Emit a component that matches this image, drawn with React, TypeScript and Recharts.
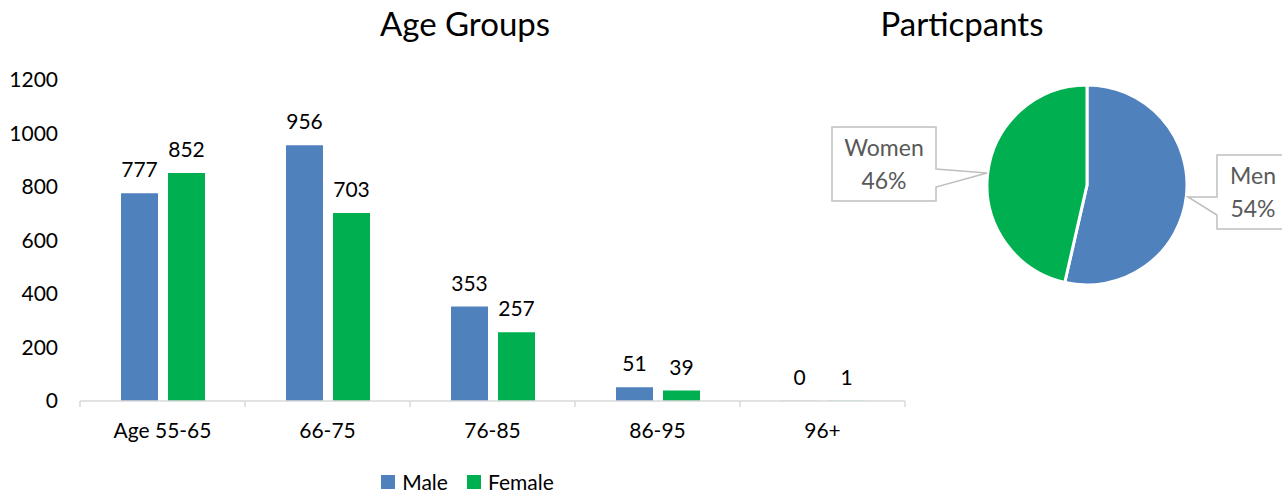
import { BarChart, Bar, XAxis, YAxis, Legend, LabelList, PieChart, Pie, Cell } from "recharts";

const categories = ["Age 55-65", "66-75", "76-85", "86-95", "96+"];
const maleValues = [777, 956, 353, 51, 0];
const femaleValues = [852, 703, 257, 39, 1];
const yTicks = [0, 200, 400, 600, 800, 1000, 1200];
const seriesNames = ["Male", "Female"];

const pieLabels = ["Men", "Women"];
const pieValues = [2137, 1852];

const BLUE = "#4F81BD";
const GREEN = "#00B050";
const FONT = "Lato, 'Open Sans', sans-serif";

const barData = categories.map((name, i) => ({
  name,
  Male: maleValues[i],
  Female: femaleValues[i],
}));

const pieTotal = pieValues.reduce((a, b) => a + b, 0);
const pieData = pieLabels.map((name, i) => ({ name, value: pieValues[i] }));

const BAND = 165;

// zero-value bars still need a rect so their label shows
const tinyForZero = (v: any) => (v === 0 ? 0.2 : 0);

const CategoryTick = (props: any) => {
  const { x, y, payload, index } = props;
  const axisY = y - 22;
  return (
    <g>
      <line x1={x - BAND / 2} x2={x - BAND / 2} y1={axisY} y2={axisY + 6} stroke="#d9d9d9" strokeWidth={1.5} />
      {index === categories.length - 1 && (
        <line x1={x + BAND / 2} x2={x + BAND / 2} y1={axisY} y2={axisY + 6} stroke="#d9d9d9" strokeWidth={1.5} />
      )}
      <text x={x} y={y} dy="0.71em" textAnchor="middle" fill="#000" fontSize={21} fontFamily={FONT}>
        {payload.value}
      </text>
    </g>
  );
};

const BarValue = (props: any) => {
  const { x, y, width, value } = props;
  return (
    <text x={x + width / 2} y={y - 16} textAnchor="middle" fill="#000" fontSize={21} fontFamily={FONT}>
      {String(value)}
    </text>
  );
};

const LegendContent = () => {
  const colors = [BLUE, GREEN];
  return (
    <div
      style={{
        position: "relative",
        top: 25,
        left: 15,
        display: "flex",
        justifyContent: "center",
        gap: 19,
        fontFamily: FONT,
        fontSize: 21,
        lineHeight: "20px",
        color: "#000",
      }}
    >
      {seriesNames.map((n, i) => (
        <div key={n} style={{ display: "flex", alignItems: "center", gap: 7 }}>
          <span style={{ width: 14, height: 14, background: colors[i], display: "inline-block" }} />
          <span>{n}</span>
        </div>
      ))}
    </div>
  );
};

const PieCallout = (props: any) => {
  const { cx, cy, index, value, name } = props;
  const pct = Math.round((value / pieTotal) * 100) + "%";
  let path = "";
  let tx = 0;
  let ty = 0;
  if (index === 0) {
    const bx = cx + 130;
    const by = cy - 30;
    const w = 74;
    const h = 74;
    path = `M${bx},${by} H${bx + w} V${by + h} H${bx} V${cy + 30} L${cx + 101},${cy + 12} L${bx},${cy + 12} Z`;
    tx = bx + 36;
    ty = by + 23;
  } else {
    const bx = cx - 255;
    const by = cy - 58;
    const w = 104;
    const h = 74;
    path = `M${bx},${by} H${bx + w} V${cy - 16} L${cx - 100},${cy - 12} L${bx + w},${cy + 2} V${by + h} H${bx} Z`;
    tx = bx + w / 2;
    ty = by + 23;
  }
  return (
    <g>
      <path d={path} fill="#fff" stroke="#bfbfbf" strokeWidth={1.5} />
      <text x={tx} y={ty} textAnchor="middle" dominantBaseline="middle" fill="#595959" fontSize={23} fontFamily={FONT}>
        {name}
      </text>
      <text x={tx} y={ty + 33} textAnchor="middle" dominantBaseline="middle" fill="#595959" fontSize={23} fontFamily={FONT}>
        {pct}
      </text>
    </g>
  );
};

export default function App() {
  return (
    <div style={{ position: "absolute", left: 0, top: 0, width: 1282, height: 493, background: "#fff", fontFamily: FONT }}>
      <div style={{ position: "absolute", left: 265, width: 400, top: 3, textAlign: "center", fontSize: 33 }}>Age Groups</div>
      <div style={{ position: "absolute", left: 762, width: 400, top: 3, textAlign: "center", fontSize: 33 }}>Particpants</div>

      <div style={{ position: "absolute", left: 0, top: 0 }}>
        <BarChart width={920} height={493} data={barData} margin={{ top: 80, right: 15, left: 0, bottom: 0 }} barGap={10} barSize={37}>
          <XAxis
            dataKey="name"
            stroke="#d9d9d9"
            strokeWidth={1.5}
            tickLine={false}
            tickSize={0}
            tickMargin={22}
            height={46}
            tick={<CategoryTick />}
            interval={0}
          />
          <YAxis
            width={80}
            domain={[0, 1200]}
            ticks={yTicks}
            axisLine={false}
            tickLine={false}
            tickSize={0}
            tickMargin={22}
            tick={{ fill: "#000", fontSize: 21, fontFamily: FONT }}
          />
          <Legend verticalAlign="bottom" content={<LegendContent />} wrapperStyle={{ height: 46 }} />
          <Bar dataKey="Male" fill={BLUE} minPointSize={tinyForZero} isAnimationActive={false}>
            <LabelList dataKey="Male" content={<BarValue />} />
          </Bar>
          <Bar dataKey="Female" fill={GREEN} minPointSize={tinyForZero} isAnimationActive={false}>
            <LabelList dataKey="Female" content={<BarValue />} />
          </Bar>
        </BarChart>
      </div>

      <div style={{ position: "absolute", left: 820, top: 0 }}>
        <PieChart width={462} height={493} margin={{ top: 0, right: 0, left: 0, bottom: 0 }}>
          <Pie
            data={pieData}
            dataKey="value"
            nameKey="name"
            cx={267}
            cy={185}
            outerRadius={100}
            startAngle={90}
            endAngle={-270}
            stroke="#fff"
            strokeWidth={3}
            labelLine={false}
            label={<PieCallout />}
            isAnimationActive={false}
          >
            <Cell fill={BLUE} />
            <Cell fill={GREEN} />
          </Pie>
        </PieChart>
      </div>
    </div>
  );
}
